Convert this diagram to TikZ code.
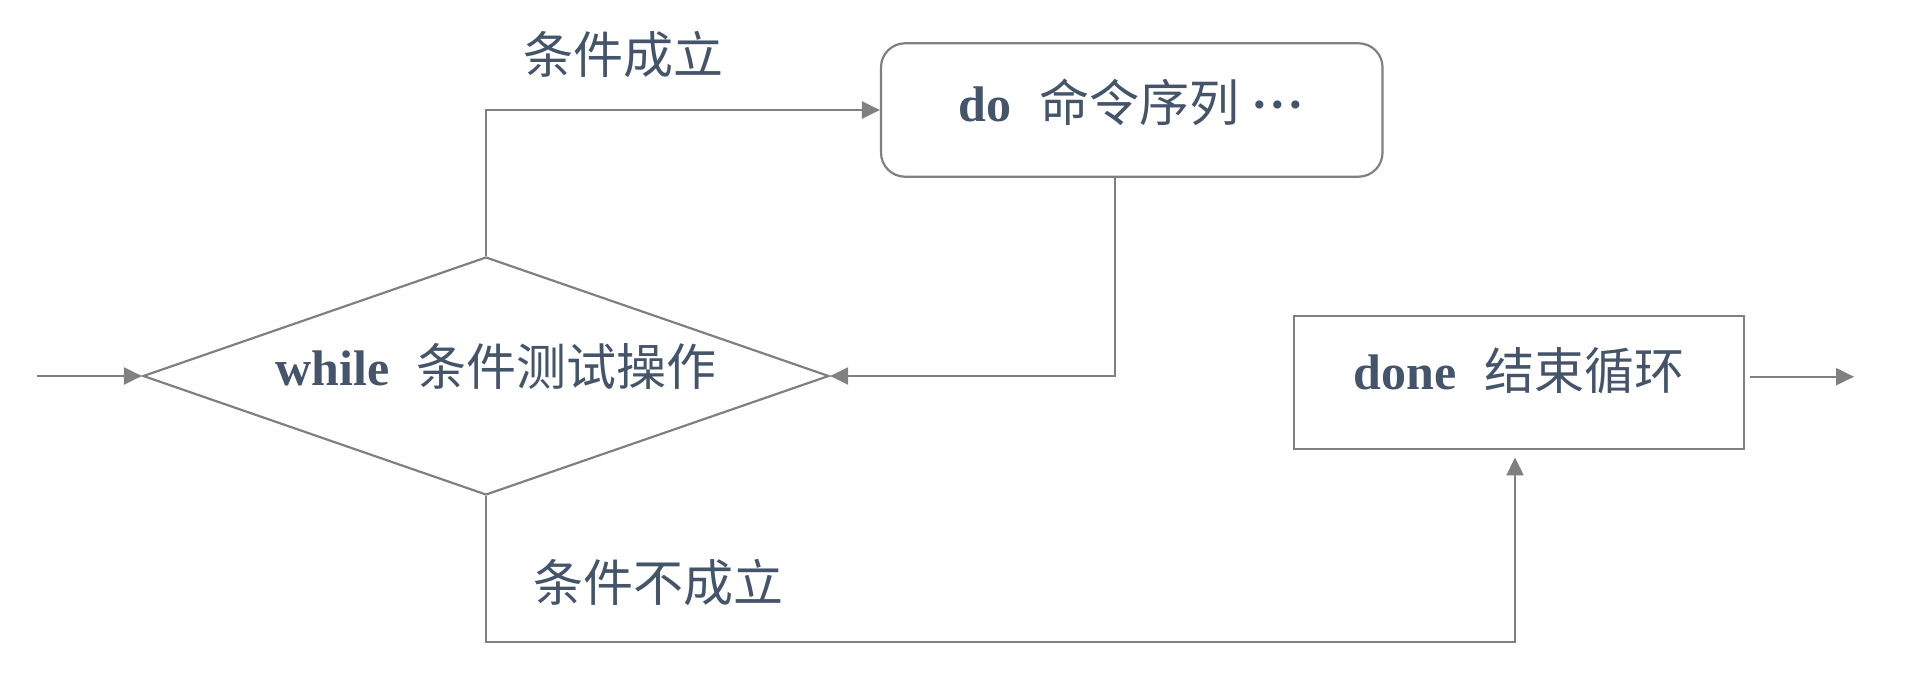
\documentclass[tikz,border=0pt]{standalone}
\usepackage{fontspec}
\setmainfont{Liberation Serif}
\newfontfamily\cjk{Noto Sans CJK SC}
\usetikzlibrary{shapes.geometric,arrows.meta}
\definecolor{txt}{HTML}{44546A}
\definecolor{ln}{HTML}{808080}
\tikzset{
  big/.style={font=\fontsize{50}{60}\selectfont, text=txt},
  shp/.style={draw=ln, line width=2.2pt, big, text height=44pt},
  arr/.style={draw=ln, line width=2.2pt, -{Triangle[length=18pt,width=17pt]}},
}
\begin{document}
\begin{tikzpicture}[x=1pt,y=-1pt]
\useasboundingbox (0,0) rectangle (1917,687);
\node[shp, diamond, shape aspect=2.88, minimum width=686pt, minimum height=238pt, inner sep=0pt, text depth=26pt] (wh) at (486,376)
  {\hspace{20pt}\textbf{while}\hspace{0.55em}{\cjk 条件测试操作}};
\node[shp, rectangle, rounded corners=24pt, minimum width=501.5pt, minimum height=133.4pt, inner sep=0pt, text depth=21pt] (do) at (1131.75,110)
  {\textbf{do}\hspace{0.55em}{\cjk 命令序列} \textbf{·\kern1.5pt·\kern1.5pt·}};
\node[shp, rectangle, minimum width=449.3pt, minimum height=133.3pt, inner sep=0pt, text depth=31pt] (done) at (1519,382.7)
  {\textbf{done}\hspace{0.55em}{\cjk 结束循环}};
\node[big] (lab1) at (623,55) {\cjk 条件成立};
\node[big] (lab2) at (658,582.5) {\cjk 条件不成立};
\coordinate (in) at (36.7,376);
\coordinate (c1) at (1515,642);
\coordinate (o1) at (1750,376.7);
\coordinate (o2) at (1854,376.7);
\draw[arr] (in) -- (wh.west);
\draw[arr] (wh.north) |- (do.west);
\draw[arr] ([xshift=-16.75pt]do.south) |- (wh.east);
\draw[arr] (wh.south) |- (c1) -- ([xshift=-4pt,yshift=-7pt]done.south);
\draw[arr] (o1) -- (o2);
\end{tikzpicture}
\end{document}
